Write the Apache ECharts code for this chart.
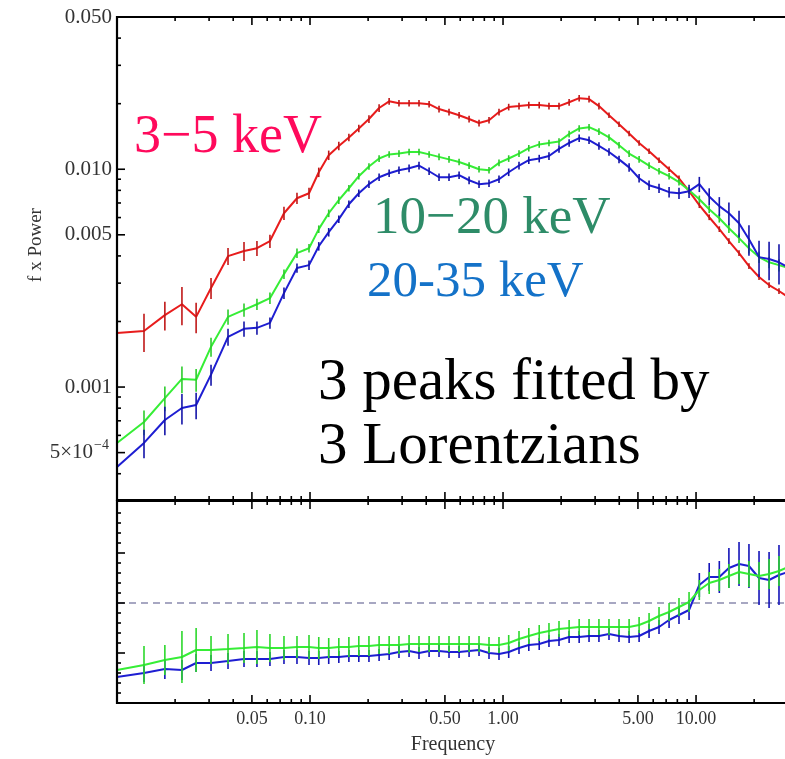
<!DOCTYPE html>
<html>
<head>
<meta charset="utf-8">
<script src="https://cdn.jsdelivr.net/npm/echarts@6/dist/echarts.min.js"></script>
<style>
  html, body { margin: 0; padding: 0; background: #fff; }
  #chart { width: 785px; height: 759px; }
</style>
</head>
<body>
<div id="chart"></div>
<script>
// Frequencies (Hz) of the rebinned power spectra
const freq = [0.0100, 0.0138, 0.0177, 0.0217, 0.0257, 0.0307, 0.0376, 0.0455, 0.0531, 0.0620, 0.0733, 0.0856, 0.0988,
  0.111, 0.125, 0.141, 0.159, 0.179, 0.202, 0.228, 0.257, 0.289, 0.326,
  0.367, 0.414, 0.466, 0.525, 0.592, 0.667, 0.751, 0.846, 0.953, 1.07,
  1.21, 1.36, 1.54, 1.73, 1.95, 2.20, 2.48, 2.79, 3.14, 3.54,
  3.99, 4.50, 5.07, 5.71, 6.43, 7.25, 8.16, 9.20, 10.4, 11.7,
  13.2, 14.8, 16.7, 18.8, 21.2, 23.9, 26.9, 30.0];

// f x Power, 3-5 keV
const power3to5 = [0.00177, 0.00181, 0.00214, 0.00240, 0.00210, 0.00285, 0.00399, 0.00421, 0.00434, 0.00468, 0.00628, 0.00736, 0.00776,
  0.00969, 0.0116, 0.0128, 0.0140, 0.0154, 0.0170, 0.0191, 0.0205, 0.0201, 0.0201,
  0.0201, 0.0199, 0.0189, 0.0183, 0.0177, 0.0170, 0.0163, 0.0168, 0.0183, 0.0193,
  0.0195, 0.0197, 0.0197, 0.0195, 0.0195, 0.0203, 0.0212, 0.0210, 0.0195, 0.0177,
  0.0161, 0.0146, 0.0132, 0.0121, 0.0110, 0.0100, 0.00909, 0.00793, 0.00684, 0.00602,
  0.00531, 0.00468, 0.00412, 0.00359, 0.00320, 0.00294, 0.00276, 0.00259];
// relative 1-sigma errors, 3-5 keV
const err3to5 = [0.12, 0.20, 0.15, 0.20, 0.16, 0.11, 0.09, 0.10, 0.08, 0.07, 0.07, 0.06, 0.06,
  0.05, 0.05, 0.045, 0.04, 0.04, 0.04, 0.04, 0.035, 0.035, 0.035,
  0.035, 0.035, 0.035, 0.035, 0.035, 0.035, 0.035, 0.035, 0.035, 0.035,
  0.035, 0.035, 0.035, 0.035, 0.035, 0.035, 0.035, 0.035, 0.035, 0.03,
  0.03, 0.03, 0.03, 0.03, 0.03, 0.03, 0.03, 0.03, 0.03, 0.03,
  0.03, 0.03, 0.03, 0.03, 0.03, 0.03, 0.03, 0.03];

// f x Power, 10-20 keV
const power10to20 = [0.000554, 0.000691, 0.000890, 0.00109, 0.00108, 0.00153, 0.00210, 0.00226, 0.00240, 0.00256, 0.00330, 0.00412, 0.00434,
  0.00531, 0.00628, 0.00721, 0.00818, 0.00929, 0.0103, 0.0112, 0.0117, 0.0118, 0.0120,
  0.0120, 0.0117, 0.0114, 0.0111, 0.0108, 0.0104, 0.0100, 0.00990, 0.0107, 0.0112,
  0.0118, 0.0125, 0.0130, 0.0132, 0.0134, 0.0145, 0.0154, 0.0156, 0.0149, 0.0140,
  0.0129, 0.0118, 0.0111, 0.0104, 0.00979, 0.00929, 0.00872, 0.00801, 0.00728, 0.00655,
  0.00596, 0.00536, 0.00483, 0.00434, 0.00395, 0.00374, 0.00363, 0.00352];
const err10to20 = [0.14, 0.13, 0.13, 0.14, 0.12, 0.10, 0.08, 0.07, 0.06, 0.06, 0.05, 0.05, 0.045,
  0.04, 0.04, 0.04, 0.035, 0.035, 0.035, 0.035, 0.035, 0.035, 0.035,
  0.035, 0.035, 0.035, 0.035, 0.035, 0.035, 0.035, 0.035, 0.035, 0.035,
  0.035, 0.035, 0.035, 0.035, 0.035, 0.035, 0.035, 0.035, 0.035, 0.035,
  0.035, 0.035, 0.035, 0.035, 0.035, 0.035, 0.035, 0.035, 0.04, 0.04,
  0.045, 0.05, 0.05, 0.055, 0.06, 0.06, 0.065, 0.07];

// f x Power, 20-35 keV
const power20to35 = [0.000430, 0.000554, 0.000706, 0.000801, 0.000827, 0.00114, 0.00170, 0.00185, 0.00187, 0.00197, 0.00270, 0.00352, 0.00363,
  0.00443, 0.00514, 0.00590, 0.00691, 0.00776, 0.00854, 0.00919, 0.00959, 0.00990, 0.0101,
  0.0104, 0.00979, 0.00919, 0.00919, 0.00939, 0.00890, 0.00854, 0.00863, 0.00900, 0.00969,
  0.0104, 0.0110, 0.0112, 0.0115, 0.0124, 0.0132, 0.0139, 0.0136, 0.0128, 0.0120,
  0.0111, 0.0102, 0.00909, 0.00845, 0.00818, 0.00785, 0.00776, 0.00793, 0.00854, 0.00750,
  0.00677, 0.00628, 0.00565, 0.00477, 0.00395, 0.00387, 0.00374, 0.00355];
const err20to35 = [0.17, 0.15, 0.15, 0.16, 0.14, 0.11, 0.09, 0.08, 0.07, 0.06, 0.06, 0.05, 0.05,
  0.045, 0.045, 0.04, 0.04, 0.04, 0.04, 0.04, 0.04, 0.04, 0.04,
  0.04, 0.04, 0.04, 0.04, 0.04, 0.04, 0.04, 0.04, 0.04, 0.04,
  0.04, 0.04, 0.04, 0.04, 0.04, 0.04, 0.04, 0.04, 0.04, 0.04,
  0.04, 0.045, 0.045, 0.05, 0.05, 0.055, 0.06, 0.07, 0.08, 0.09,
  0.10, 0.12, 0.14, 0.16, 0.19, 0.20, 0.21, 0.22];

// Ratio panel: hard bands relative to the 3-5 keV band
const ratio10to20 = [0.33, 0.38, 0.43, 0.46, 0.53, 0.53, 0.54, 0.55, 0.56, 0.55, 0.55, 0.56, 0.56,
  0.55, 0.55, 0.56, 0.56, 0.57, 0.57, 0.58, 0.58, 0.58, 0.59,
  0.59, 0.59, 0.59, 0.59, 0.59, 0.59, 0.59, 0.58, 0.58, 0.60,
  0.64, 0.67, 0.70, 0.72, 0.74, 0.75, 0.76, 0.76, 0.76, 0.76,
  0.76, 0.76, 0.78, 0.82, 0.87, 0.91, 0.96, 1.01, 1.13, 1.20,
  1.23, 1.27, 1.31, 1.29, 1.27, 1.29, 1.32, 1.36];
const ratioErr10to20 = [0.15, 0.19, 0.15, 0.26, 0.22, 0.14, 0.15, 0.15, 0.17, 0.14, 0.12, 0.11, 0.12,
  0.11, 0.10, 0.09, 0.10, 0.10, 0.10, 0.09, 0.09, 0.09, 0.09,
  0.08, 0.08, 0.08, 0.08, 0.08, 0.08, 0.08, 0.08, 0.08, 0.08,
  0.08, 0.08, 0.08, 0.08, 0.08, 0.08, 0.08, 0.08, 0.08, 0.08,
  0.08, 0.08, 0.08, 0.08, 0.09, 0.09, 0.09, 0.10, 0.10, 0.11,
  0.11, 0.12, 0.12, 0.13, 0.14, 0.15, 0.15, 0.16];
const ratio20to35 = [0.26, 0.30, 0.34, 0.33, 0.40, 0.40, 0.42, 0.44, 0.44, 0.44, 0.46, 0.46, 0.45,
  0.45, 0.46, 0.46, 0.47, 0.47, 0.47, 0.48, 0.49, 0.51, 0.52,
  0.50, 0.52, 0.52, 0.51, 0.51, 0.52, 0.53, 0.50, 0.49, 0.51,
  0.55, 0.58, 0.59, 0.62, 0.63, 0.66, 0.66, 0.67, 0.67, 0.69,
  0.67, 0.66, 0.67, 0.72, 0.76, 0.83, 0.88, 0.93, 1.18, 1.26,
  1.26, 1.35, 1.39, 1.37, 1.25, 1.23, 1.28, 1.31];
const ratioErr20to35 = [0.10, 0.09, 0.10, 0.10, 0.09, 0.08, 0.08, 0.08, 0.08, 0.07, 0.07, 0.07, 0.07,
  0.07, 0.07, 0.06, 0.06, 0.06, 0.06, 0.06, 0.06, 0.06, 0.06,
  0.06, 0.06, 0.06, 0.06, 0.06, 0.06, 0.06, 0.06, 0.06, 0.06,
  0.06, 0.06, 0.06, 0.06, 0.06, 0.06, 0.06, 0.06, 0.06, 0.06,
  0.06, 0.06, 0.06, 0.07, 0.07, 0.08, 0.09, 0.10, 0.12, 0.14,
  0.16, 0.20, 0.22, 0.22, 0.27, 0.28, 0.30, 0.30];

// Axis ticks and tick labels
const freqMajorTicks = [0.05, 0.1, 0.5, 1, 5, 10];
const freqTickLabels = ['0.05', '0.10', '0.50', '1.00', '5.00', '10.00'];
const freqMinorTicks = [0.02, 0.03, 0.04, 0.06, 0.07, 0.08, 0.09, 0.2, 0.3, 0.4, 0.6, 0.7, 0.8, 0.9,
  2, 3, 4, 6, 7, 8, 9, 20];
const powerMajorTicks = [0.05, 0.01, 0.005, 0.001, 0.0005];
const powerTickLabels = ['0.050', '0.010', '0.005', '0.001', '5×10|−4'];
const powerMinorTicks = [0.04, 0.03, 0.02, 0.009, 0.008, 0.007, 0.006, 0.004, 0.003, 0.002,
  0.0009, 0.0008, 0.0007, 0.0006, 0.0004];
const ratioMajorTicks = [0.5, 1.0, 1.5];
const ratioMinorTicks = [0.1, 0.2, 0.3, 0.4, 0.6, 0.7, 0.8, 0.9, 1.1, 1.2, 1.3, 1.4, 1.6, 1.7, 1.8, 1.9];

// Axis ranges (the frequency axis runs past the right edge of the page)
const F_MIN = 0.01, F_MAX = 28.9;
const P_MIN = 3.03e-4, P_MAX = 0.05;
const R_MIN = 0, R_MAX = 2.02;

const SERIF = '"Liberation Serif", "Times New Roman", serif';
const RED = '#e81c1c', GREEN = '#36ee36', BLUE = '#1e1ed2';

const pairs = (vals) => freq.map((f, i) => [f, vals[i]]);
const relBars = (vals, errs) => freq.map((f, i) => [f, vals[i] * (1 - errs[i]), vals[i] * (1 + errs[i])]);
const absBars = (vals, errs) => freq.map((f, i) => [f, vals[i] - errs[i], vals[i] + errs[i]]);

function lineSeries(grid, data, color, z) {
  return {
    type: 'line', xAxisIndex: grid, yAxisIndex: grid, data: data,
    symbol: 'none', showSymbol: false, silent: true, clip: true, z: z,
    lineStyle: { color: color, width: 2 }
  };
}

function errorSeries(grid, data, color, z) {
  return {
    type: 'custom', xAxisIndex: grid, yAxisIndex: grid, data: data, silent: true, z: z, clip: true,
    encode: { x: 0, y: [1, 2] },
    renderItem: function (params, api) {
      const lo = api.coord([api.value(0), api.value(1)]);
      const hi = api.coord([api.value(0), api.value(2)]);
      return {
        type: 'line',
        shape: { x1: lo[0], y1: lo[1], x2: hi[0], y2: hi[1] },
        style: { stroke: color, lineWidth: 1.6 }
      };
    }
  };
}

// Open frame (left, top, bottom) of a panel
function frameSeries(grid, yRef) {
  return {
    type: 'custom', xAxisIndex: grid, yAxisIndex: grid, data: [[F_MIN, yRef]], silent: true, z: 21,
    renderItem: function (params) {
      const cs = params.coordSys;
      const r = cs.x + cs.width + 10;
      return {
        type: 'polyline',
        shape: { points: [[r, cs.y], [cs.x, cs.y], [cs.x, cs.y + cs.height], [r, cs.y + cs.height]] },
        style: { stroke: '#000', lineWidth: 2.2, fill: null }
      };
    }
  };
}

// Ticks on the left frame (pointing inward)
function yTickSeries(grid, majors, minors) {
  const data = majors.map(v => [F_MIN, v, 1]).concat(minors.map(v => [F_MIN, v, 0]));
  return {
    type: 'custom', xAxisIndex: grid, yAxisIndex: grid, data: data, silent: true, z: 20,
    renderItem: function (params, api) {
      const p = api.coord([api.value(0), api.value(1)]);
      const len = api.value(2) ? 8 : 4;
      const x0 = params.coordSys.x;
      return {
        type: 'line',
        shape: { x1: x0, y1: p[1], x2: x0 + len, y2: p[1] },
        style: { stroke: '#000', lineWidth: 1.6 }
      };
    }
  };
}

// Ticks on the top and bottom frames of a panel
function xTickSeries(grid, yRef) {
  const data = freqMajorTicks.map(v => [v, yRef, 1]).concat(freqMinorTicks.map(v => [v, yRef, 0]));
  return {
    type: 'custom', xAxisIndex: grid, yAxisIndex: grid, data: data, silent: true, z: 20,
    renderItem: function (params, api) {
      const p = api.coord([api.value(0), api.value(1)]);
      const cs = params.coordSys;
      const len = api.value(2) ? 8 : 4;
      return {
        type: 'group',
        children: [
          { type: 'line', shape: { x1: p[0], y1: cs.y, x2: p[0], y2: cs.y + len },
            style: { stroke: '#000', lineWidth: 1.6 } },
          { type: 'line', shape: { x1: p[0], y1: cs.y + cs.height, x2: p[0], y2: cs.y + cs.height - len },
            style: { stroke: '#000', lineWidth: 1.6 } }
        ]
      };
    }
  };
}

const powerLabelFont = '21px ' + SERIF;
const freqLabelFont = '18px ' + SERIF;

const powerLabelSeries = {
  type: 'custom', xAxisIndex: 0, yAxisIndex: 0, silent: true, z: 20,
  data: powerMajorTicks.map((v, i) => [F_MIN, v, i]),
  renderItem: function (params, api) {
    const p = api.coord([api.value(0), api.value(1)]);
    const x0 = params.coordSys.x;
    const parts = powerTickLabels[api.value(2)].split('|');
    if (parts.length === 1) {
      return { type: 'text', x: x0 - 5, y: p[1],
        style: { text: parts[0], align: 'right', verticalAlign: 'middle', fill: '#333', font: powerLabelFont } };
    }
    return {
      type: 'group',
      children: [
        { type: 'text', x: x0 - 24, y: p[1],
          style: { text: parts[0], align: 'right', verticalAlign: 'middle', fill: '#333', font: powerLabelFont } },
        { type: 'text', x: x0 - 23, y: p[1] - 7,
          style: { text: parts[1], align: 'left', verticalAlign: 'middle', fill: '#333', font: '14px ' + SERIF } }
      ]
    };
  }
};

const freqLabelSeries = {
  type: 'custom', xAxisIndex: 1, yAxisIndex: 1, silent: true, z: 20,
  data: freqMajorTicks.map((v, i) => [v, 1, i]),
  renderItem: function (params, api) {
    const p = api.coord([api.value(0), api.value(1)]);
    const cs = params.coordSys;
    return { type: 'text', x: p[0], y: cs.y + cs.height + 16,
      style: { text: freqTickLabels[api.value(2)], align: 'center', verticalAlign: 'middle', fill: '#333', font: freqLabelFont } };
  }
};

const hiddenAxis = { show: false };

const option = {
  animation: false,
  backgroundColor: '#fff',
  grid: [
    { left: 117, top: 17, width: 668, height: 483, show: false },
    { left: 117, top: 501, width: 668, height: 202, show: false }
  ],
  xAxis: [
    Object.assign({ type: 'log', logBase: 10, gridIndex: 0, min: F_MIN, max: F_MAX }, hiddenAxis),
    Object.assign({ type: 'log', logBase: 10, gridIndex: 1, min: F_MIN, max: F_MAX }, hiddenAxis)
  ],
  yAxis: [
    Object.assign({ type: 'log', logBase: 10, gridIndex: 0, min: P_MIN, max: P_MAX }, hiddenAxis),
    Object.assign({ type: 'value', gridIndex: 1, min: R_MIN, max: R_MAX }, hiddenAxis)
  ],
  series: [
    lineSeries(0, pairs(power3to5), RED, 2),
    errorSeries(0, relBars(power3to5, err3to5), '#c01818', 3),
    lineSeries(0, pairs(power10to20), GREEN, 4),
    errorSeries(0, relBars(power10to20, err10to20), '#2ccc2c', 5),
    lineSeries(0, pairs(power20to35), BLUE, 6),
    errorSeries(0, relBars(power20to35, err20to35), '#1414a8', 7),

    Object.assign(lineSeries(1, pairs(ratio20to35), BLUE, 4), {
      markLine: {
        silent: true, symbol: 'none', animation: false,
        label: { show: false },
        lineStyle: { color: '#8a8aae', width: 1.5, type: [7, 5] },
        data: [{ yAxis: 1 }]
      }
    }),
    errorSeries(1, absBars(ratio20to35, ratioErr20to35), '#1414b8', 5),
    lineSeries(1, pairs(ratio10to20), GREEN, 6),
    errorSeries(1, absBars(ratio10to20, ratioErr10to20), '#2cd82c', 7),

    frameSeries(0, 0.01),
    frameSeries(1, 1),
    yTickSeries(0, powerMajorTicks, powerMinorTicks),
    yTickSeries(1, ratioMajorTicks, ratioMinorTicks),
    xTickSeries(0, 0.01),
    xTickSeries(1, 1),
    powerLabelSeries,
    freqLabelSeries
  ],
  graphic: [
    { type: 'text', left: 134, top: 111, style: { text: '3−5 keV', font: '54px ' + SERIF, fill: '#ff0a5c' } },
    { type: 'text', left: 373, top: 193, style: { text: '10−20 keV', font: '53px ' + SERIF, fill: '#2e8c68' } },
    { type: 'text', left: 367, top: 257, style: { text: '20-35 keV', font: '51px ' + SERIF, fill: '#1472c8' } },
    { type: 'text', left: 318, top: 354, style: { text: '3 peaks fitted by', font: '59px ' + SERIF, fill: '#000' } },
    { type: 'text', left: 318, top: 418, style: { text: '3 Lorentzians', font: '59px ' + SERIF, fill: '#000' } },
    { type: 'text', x: 36, y: 245, rotation: Math.PI / 2,
      style: { text: 'f x Power', font: '19px ' + SERIF, fill: '#333', align: 'center', verticalAlign: 'middle' } },
    { type: 'text', x: 453, y: 745,
      style: { text: 'Frequency', font: '20px ' + SERIF, fill: '#333', align: 'center', verticalAlign: 'middle' } }
  ]
};

const chart = echarts.init(document.getElementById('chart'), null, { renderer: 'canvas' });
chart.setOption(option);
</script>
</body>
</html>
